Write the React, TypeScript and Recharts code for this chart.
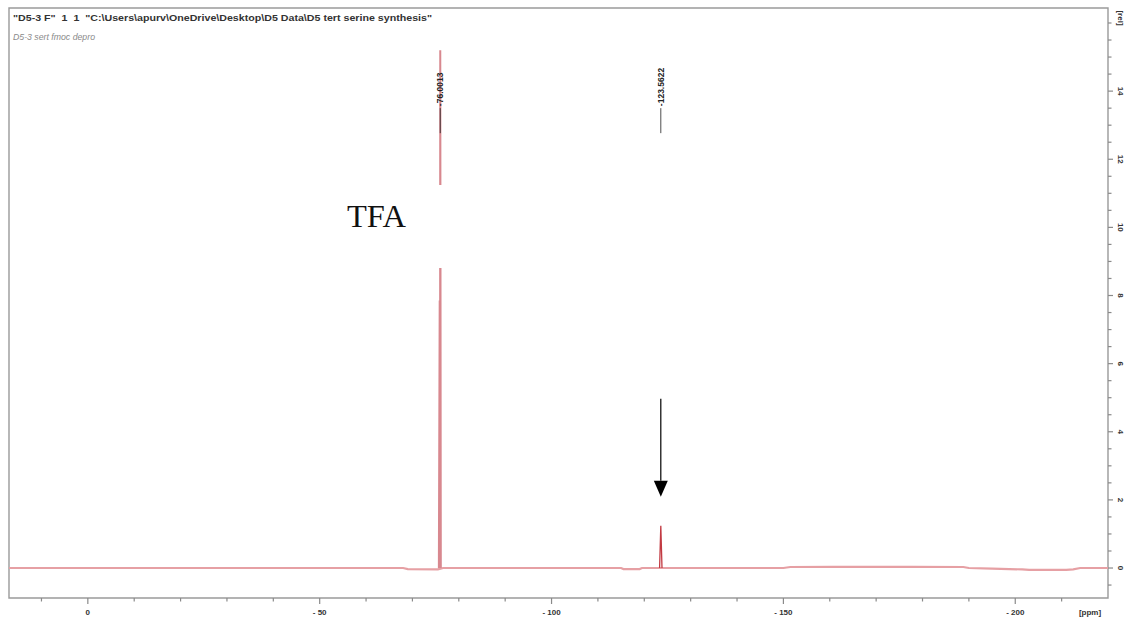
import React from 'react';
import {
  LineChart,
  Line,
  XAxis,
  YAxis,
  ReferenceArea,
  ReferenceLine,
  ReferenceDot,
} from 'recharts';

// Header lines of the spectrum printout
const headerTitle =
  '"D5-3 F"  1  1  "C:\\Users\\apurv\\OneDrive\\Desktop\\D5 Data\\D5 tert serine synthesis"';
const headerSubtitle = 'D5-3 sert fmoc depro';

// Baseline trace (ppm, relative intensity)
const baselinePpm = [17, -68, -69, -75.5, -76.6, -115, -115.5, -119, -119.5, -150, -151.5, -160.7, -177.8, -188.8, -190, -195, -201.5, -203, -211, -212.5, -214, -220];
const baselineRel = [0, 0, -0.03, -0.04, 0, 0, -0.03, -0.03, 0, 0, 0.03, 0.035, 0.035, 0.03, 0, -0.02, -0.04, -0.055, -0.055, -0.04, 0, 0];

// TFA signal
const tfaPpm = [-75.7, -75.88, -75.95, -76.0013, -76.12];
const tfaRel = [0, 7.85, 0.2, 15.2, 0];

// Product signal
const signalPpm = [-123.3, -123.5622, -123.82];
const signalRel = [0, 1.24, 0];

// Peak picking annotations
const peakPpm = [-76.0013, -123.5622];
const peakText = ['-76.0013', '-123.5622'];

// Axes
const ppmDomain = [-220, 17];
const relDomain = [-0.88, 16.44];
const ppmTicks = [10, 0, -10, -20, -30, -40, -50, -60, -70, -80, -90, -100, -110, -120, -130, -140, -150, -160, -170, -180, -190, -200, -210];
const ppmLabelled = [0, -50, -100, -150, -200];
const relTicks = [-0.5, 0, 0.5, 1, 1.5, 2, 2.5, 3, 3.5, 4, 4.5, 5, 5.5, 6, 6.5, 7, 7.5, 8, 8.5, 9, 9.5, 10, 10.5, 11, 11.5, 12, 12.5, 13, 13.5, 14, 14.5, 15, 15.5, 16];
const relLabelled = [0, 2, 4, 6, 8, 10, 12, 14];

// Arrow pointing at the product signal
const arrowTop = 4.97;
const arrowHeadBase = 2.56;
const arrowTip = 2.09;

const toRows = (xs: number[], ys: number[]) => xs.map((ppm, i) => ({ ppm, rel: ys[i] }));

const baselineData = toRows(baselinePpm, baselineRel);
const tfaData = toRows(tfaPpm, tfaRel);
const signalData = toRows(signalPpm, signalRel);

const FONT = '"Liberation Sans", Arial, sans-serif';
const TICK_COLOR = '#8a8a8a';
const LABEL_COLOR = '#333';

const fmtPpm = (v: number) => (v === 0 ? '0' : `- ${Math.abs(v)}`);

const PpmTick = (props: any) => {
  const { x, y, payload } = props;
  const v = payload.value as number;
  const major = ppmLabelled.includes(v);
  return (
    <g>
      <line x1={x} x2={x} y1={y} y2={y + (major ? 6 : 3.5)} stroke={TICK_COLOR} strokeWidth={1.2} />
      {major && (
        <text x={x} y={y + 17} textAnchor="middle" fontSize={8} fontWeight={700} fontFamily={FONT} fill={LABEL_COLOR}>
          {fmtPpm(v)}
        </text>
      )}
    </g>
  );
};

const RelTick = (props: any) => {
  const { x, y, payload } = props;
  const v = payload.value as number;
  const major = relLabelled.includes(v);
  const lx = x + 12;
  return (
    <g>
      <line x1={x} x2={x + (major ? 5 : 3.5)} y1={y} y2={y} stroke={TICK_COLOR} strokeWidth={1.2} />
      {major && (
        <text
          x={lx}
          y={y}
          transform={`rotate(90 ${lx} ${y})`}
          textAnchor="middle"
          dominantBaseline="central"
          fontSize={8}
          fontWeight={700}
          fontFamily={FONT}
          fill={LABEL_COLOR}
        >
          {v}
        </text>
      )}
    </g>
  );
};

const PeakLabel = (text: string) => (props: any) => {
  const { cx, cy } = props;
  return (
    <g>
      <line x1={cx} x2={cx} y1={cy} y2={cy + 25} stroke="#222" strokeWidth={0.8} />
      <text
        x={cx}
        y={cy - 2}
        transform={`rotate(-90 ${cx} ${cy - 2})`}
        textAnchor="start"
        dominantBaseline="central"
        fontSize={8.5}
        fontWeight={700}
        fontFamily={FONT}
        fill="#222"
      >
        {text}
      </text>
    </g>
  );
};

const ArrowHead = (props: any) => {
  const { cx, cy } = props;
  return <polygon points={`${cx},${cy} ${cx - 7},${cy - 16} ${cx + 7},${cy - 16}`} fill="#000" />;
};

export default function App() {
  return (
    <div style={{ position: 'absolute', left: 0, top: 0, width: 1130, height: 620, background: '#fff' }}>
      <LineChart width={1130} height={620} margin={{ top: 8, left: 9, right: 0, bottom: 0 }}>
        <XAxis
          dataKey="ppm"
          type="number"
          domain={ppmDomain}
          reversed
          allowDataOverflow
          ticks={ppmTicks}
          interval={0}
          tick={<PpmTick />}
          tickLine={false}
          axisLine={false}
          tickSize={0}
          tickMargin={0}
          height={22}
        />
        <YAxis
          yAxisId={0}
          orientation="right"
          type="number"
          domain={relDomain}
          allowDataOverflow
          ticks={relTicks}
          interval={0}
          tick={<RelTick />}
          tickLine={false}
          axisLine={false}
          tickSize={0}
          tickMargin={0}
          width={22}
        />
        <ReferenceArea
          x1={ppmDomain[1]}
          x2={ppmDomain[0]}
          y1={relDomain[0]}
          y2={relDomain[1]}
          fill="none"
          stroke="#9a9a9a"
          strokeWidth={1.4}
          ifOverflow="visible"
        />
        <Line
          data={baselineData}
          dataKey="rel"
          type="linear"
          stroke="#e6a0a4"
          strokeWidth={2.2}
          dot={false}
          isAnimationActive={false}
        />
        <Line
          data={tfaData}
          dataKey="rel"
          type="linear"
          stroke="#d8888f"
          strokeWidth={2}
          dot={false}
          isAnimationActive={false}
        />
        <Line
          data={signalData}
          dataKey="rel"
          type="linear"
          stroke="#c23a42"
          strokeWidth={1.3}
          dot={false}
          isAnimationActive={false}
        />
        {peakPpm.map((p, i) => (
          <ReferenceDot key={p} x={p} y={13.5} r={0} shape={PeakLabel(peakText[i])} ifOverflow="visible" />
        ))}
        <ReferenceLine
          segment={[
            { x: peakPpm[1], y: arrowTop },
            { x: peakPpm[1], y: arrowHeadBase },
          ]}
          stroke="#000"
          strokeWidth={1.2}
        />
        <ReferenceDot x={peakPpm[1]} y={arrowTip} r={0} shape={<ArrowHead />} ifOverflow="visible" />
      </LineChart>
      <svg
        width={1130}
        height={620}
        style={{ position: 'absolute', left: 0, top: 0, pointerEvents: 'none' }}
      >
        <text
          x={13}
          y={21}
          fontSize={8.5}
          fontWeight={700}
          fontFamily={FONT}
          fill="#333"
          style={{ whiteSpace: 'pre' }}
          textLength={419}
          lengthAdjust="spacingAndGlyphs"
        >
          {headerTitle}
        </text>
        <text
          x={13}
          y={40}
          fontSize={9}
          fontStyle="italic"
          fontFamily={FONT}
          fill="#8a8a8a"
          textLength={82}
          lengthAdjust="spacingAndGlyphs"
        >
          {headerSubtitle}
        </text>
        <rect x={335} y={185} width={108} height={83} fill="#fff" />
        <text x={347} y={227} fontSize={32} fontFamily='"Liberation Serif", "Times New Roman", serif' fill="#111" textLength={59} lengthAdjust="spacingAndGlyphs">
          TFA
        </text>
        <text
          x={1120}
          y={18}
          transform="rotate(90 1120 18)"
          textAnchor="middle"
          dominantBaseline="central"
          fontSize={8}
          fontWeight={700}
          fontFamily={FONT}
          fill={LABEL_COLOR}
        >
          [rel]
        </text>
        <text x={1090} y={615} textAnchor="middle" fontSize={8} fontWeight={700} fontFamily={FONT} fill={LABEL_COLOR}>
          [ppm]
        </text>
      </svg>
    </div>
  );
}
